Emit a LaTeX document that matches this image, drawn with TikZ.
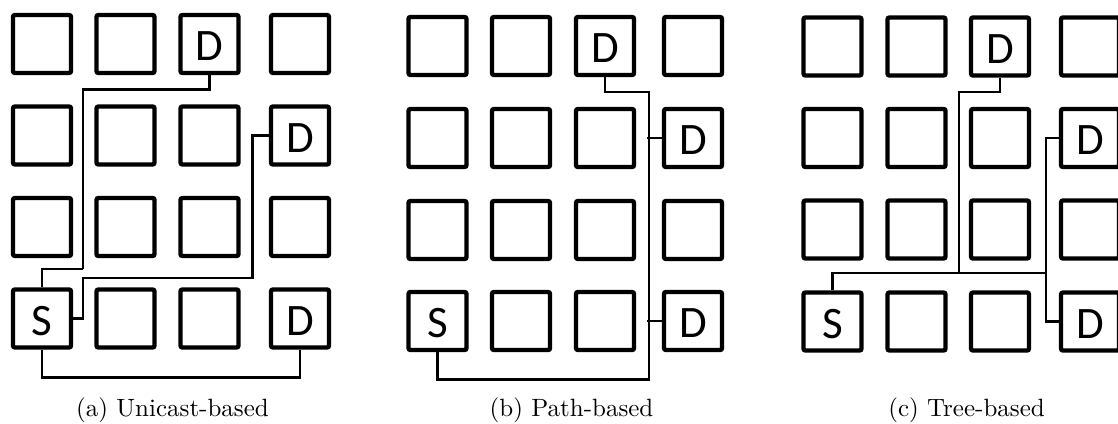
\documentclass[tikz,border=0pt]{standalone}
\usepackage{fontspec}
\newfontfamily\markfont{Carlito}
\usetikzlibrary{calc}

% text printed inside a cell, looked up by the cell's name (empty when unset)
\newcommand\cellmark[1]{\csname cm#1\endcsname}
\newcommand\setmark[2]{\expandafter\def\csname cm#1\endcsname{#2}}
\setmark{a13}{D}\setmark{a24}{D}\setmark{a41}{S}\setmark{a44}{D}
\setmark{b13}{D}\setmark{b24}{D}\setmark{b41}{S}\setmark{b44}{D}
\setmark{c13}{D}\setmark{c24}{D}\setmark{c41}{S}\setmark{c44}{D}

\tikzset{
  cell/.style={draw=black, fill=white, line width=4.4pt, rounded corners=2pt,
    minimum width=58pt, minimum height=58pt, inner sep=0pt,
    font=\markfont\fontsize{45}{48}\selectfont, text height=33pt, text depth=0pt},
  wire/.style={draw=black, line width=2.8pt},
  caption/.style={scale=2.5, inner sep=0pt, anchor=base,
    font=\fontsize{10}{12}\selectfont},
}

\begin{document}
\begin{tikzpicture}[x=1pt, y=-1pt]
\fill[white] (0,0) rectangle (1118,423);
\useasboundingbox (0,0) rectangle (1118,423);

% ---------- (a) unicast-based ----------
\foreach \r/\y in {1/44,2/135.5,3/227,4/318.5}
  \foreach \c/\x in {1/42,2/125.5,3/209.5,4/300}
    \node[cell] (a\r\c) at (\x,\y) {\cellmark{a\r\c}};
\draw[wire] (83,269) |- ($(a13.south)+(0,14)$) -- (a13.south);
\draw[wire] (a41.north) |- (83,269);
\draw[wire] (a41.east) -| (83,278) -| ($(a24.west)+(-16,0)$) -- (a24.west);
\draw[wire] (a41.south) |- ($(a44.south)+(0,28)$) -- (a44.south);
\node[caption] (capa) at (172.5,416) {(a) Unicast-based};

% ---------- (b) path-based ----------
\foreach \r/\y in {1/46,2/138,3/230,4/321}
  \foreach \c/\x in {1/437.5,2/521,3/605,4/693}
    \node[cell] (b\r\c) at (\x,\y) {\cellmark{b\r\c}};
\coordinate (btrunk) at (649,92);
\draw[wire] (b13.south) |- (btrunk) |- ($(b41.south)+(0,27)$) -- (b41.south);
\draw[wire] (b24.west) -- ++(-15,0);
\draw[wire] (b44.west) -- ++(-15,0);
\node[caption] (capb) at (571.5,416) {(b) Path-based};

% ---------- (c) tree-based ----------
\foreach \r/\y in {1/46.5,2/138,3/229.5,4/321.5}
  \foreach \c/\x in {1/832.5,2/916.5,3/1000,4/1090}
    \node[cell] (c\r\c) at (\x,\y) {\cellmark{c\r\c}};
\coordinate (cjoin) at (959,273);
\coordinate (cfork) at (1046,273);
\draw[wire] (c13.south) |- (959,92) -- (cjoin);
\draw[wire] (c41.north) |- (cfork);
\draw[wire] (c24.west) -| ($(cfork)+(0,48.5)$) -- (c44.west);
\node[caption] (capc) at (966.5,416) {(c) Tree-based};
\end{tikzpicture}
\end{document}
